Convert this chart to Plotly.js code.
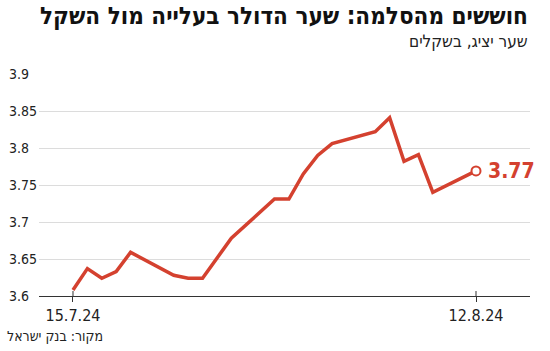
<!DOCTYPE html>
<html><head><meta charset="utf-8">
<script src="https://cdn.plot.ly/plotly-3.0.1.min.js"></script>
<style>html,body{margin:0;padding:0;background:#fff}#c{width:550px;height:351px}</style>
</head><body><div id="c"></div>
<script>
const dates = ['2024-07-15','2024-07-16','2024-07-17','2024-07-18','2024-07-19',
  '2024-07-22','2024-07-23','2024-07-24','2024-07-25','2024-07-26',
  '2024-07-29','2024-07-30','2024-07-31','2024-08-01','2024-08-02',
  '2024-08-05','2024-08-06','2024-08-07','2024-08-08','2024-08-09','2024-08-12'];
const rates = [3.608,3.637,3.624,3.633,3.659,
  3.628,3.624,3.624,3.651,3.678,
  3.731,3.731,3.765,3.790,3.806,
  3.822,3.841,3.782,3.791,3.740,3.769];
const yTicks = [3.6,3.65,3.7,3.75,3.8,3.85,3.9];
const yTickLabels = ['3.6','3.65','3.7','3.75','3.8','3.85','3.9'];
const xTicks = ['2024-07-15','2024-08-12'];
const xTickLabels = ['15.7.24','12.8.24'];
const titleText = 'חוששים מהסלמה: שער הדולר בעלייה מול השקל';
const subtitleText = 'שער יציג, בשקלים';
const sourceText = 'מקור: בנק ישראל';

const FONT = '"Liberation Sans Narrow","DejaVu Sans Condensed","Roboto","Liberation Sans",sans-serif';
const RED = '#d4412f';
const last = rates.length - 1;
const H = 222;
const toPaperY = py => (351-55-py)/H;

const annotations = [];
yTicks.forEach((v,i)=>{
  annotations.push({xref:'paper', yref:'y', x:-32/491, y:v, xanchor:'left', yanchor:'middle',
    text:yTickLabels[i], showarrow:false, font:{family:FONT,size:14,color:'#222'}});
});
annotations.push(
  {xref:'paper', yref:'paper', x:1, y:toPaperY(0), xanchor:'right', yanchor:'top',
    text:'<b>'+titleText+'</b>', showarrow:false, font:{family:FONT,size:24,color:'#111'}},
  {xref:'paper', yref:'paper', x:1, y:toPaperY(29), xanchor:'right', yanchor:'top',
    text:subtitleText, showarrow:false, font:{family:FONT,size:17,color:'#222'}},
  {xref:'paper', yref:'paper', x:-34/491, y:toPaperY(326), xanchor:'left', yanchor:'top',
    text:sourceText, showarrow:false, font:{family:FONT,size:14,color:'#222'}},
  {xref:'x', yref:'y', x:dates[last], y:rates[last], xanchor:'left', yanchor:'middle', xshift:10,
    text:'<b>'+rates[last].toFixed(2)+'</b>', showarrow:false, font:{family:FONT,size:21,color:RED}}
);

// small tick stubs above the axis line at the labelled dates
const shapes = xTicks.map(d => ({type:'line', xref:'x', yref:'paper', x0:d, x1:d,
  y0:0, y1:5/H, line:{color:'#333', width:1}}));

const layout = {
  width:550, height:351,
  margin:{l:39, r:20, t:74, b:55},
  paper_bgcolor:'#fff', plot_bgcolor:'#fff',
  showlegend:false,
  xaxis:{type:'date', range:['2024-07-12 15:19','2024-08-15 18:03'],
    tickvals:xTicks, ticktext:xTickLabels, ticks:'outside', ticklen:5, tickcolor:'#333',
    showgrid:false, zeroline:false, showline:true, linecolor:'#333', linewidth:1.2,
    tickfont:{family:FONT,size:16,color:'#222'}, fixedrange:true},
  yaxis:{range:[3.6,3.9], tickvals:yTicks, showticklabels:false, showgrid:true,
    gridcolor:'#dcdcdc', gridwidth:1, zeroline:false, showline:false, fixedrange:true},
  annotations:annotations,
  shapes:shapes
};

const traces = [
  {x:dates, y:rates, type:'scatter', mode:'lines', line:{color:RED, width:3.5}, hoverinfo:'skip'},
  {x:[dates[last]], y:[rates[last]], type:'scatter', mode:'markers',
   marker:{size:9, color:'#fff', line:{color:RED, width:2}}, hoverinfo:'skip'}
];

Plotly.newPlot('c', traces, layout, {staticPlot:true});
</script>
</body></html>
